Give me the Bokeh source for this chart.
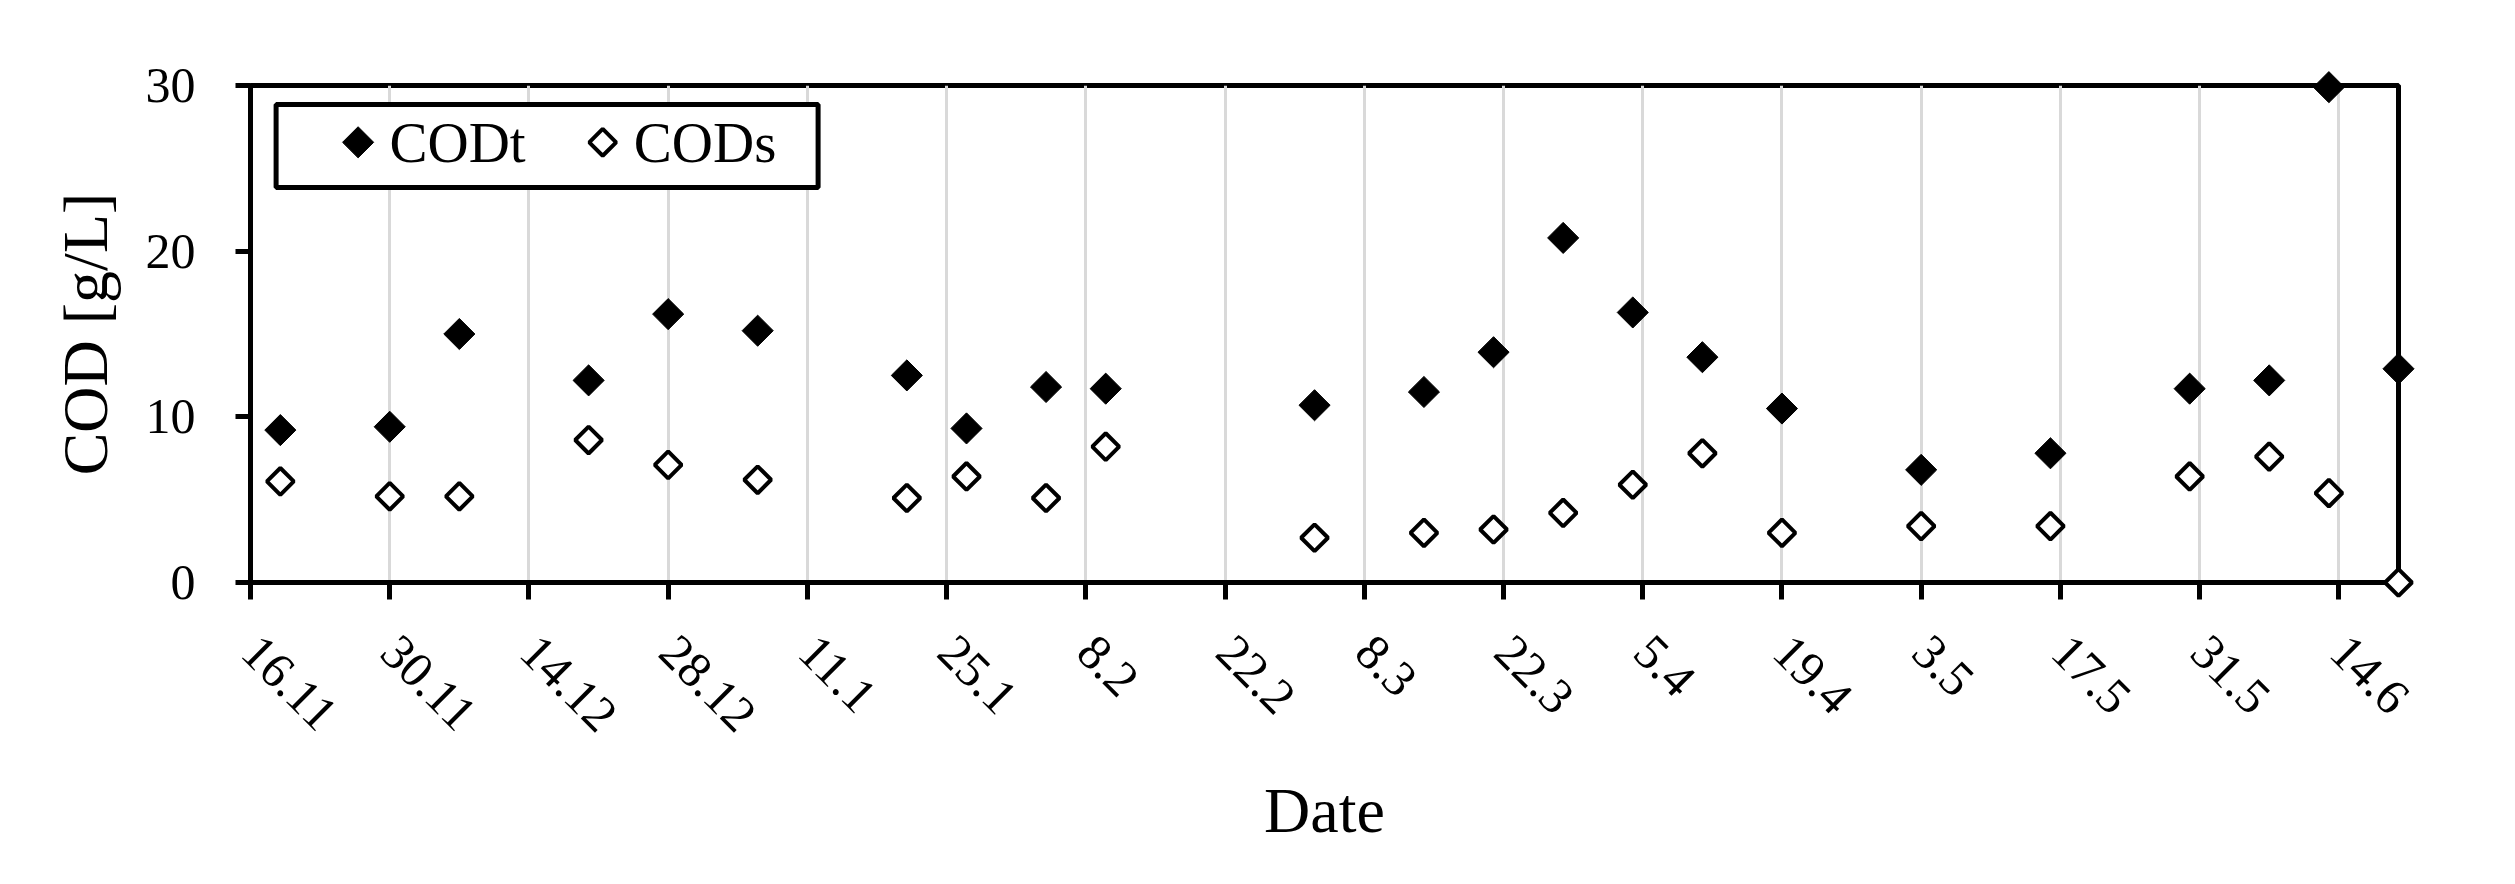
import math
import pandas as pd
from bokeh.plotting import figure
from bokeh.models import FixedTicker, Range1d, BoxAnnotation, Label
from bokeh.embed import file_html
from bokeh.resources import INLINE

# ---------------- data ----------------
start_date = "2017-11-16"
end_date = "2018-06-20"
sample_dates = ["2017-11-19", "2017-11-30", "2017-12-07", "2017-12-20", "2017-12-28",
                "2018-01-06", "2018-01-21", "2018-01-27", "2018-02-04", "2018-02-10",
                "2018-03-03", "2018-03-14", "2018-03-21", "2018-03-28", "2018-04-04",
                "2018-04-11", "2018-04-19", "2018-05-03", "2018-05-16", "2018-05-30",
                "2018-06-07", "2018-06-13", "2018-06-20"]
cod_t = [9.2, 9.4, 15.0, 12.2, 16.2, 15.2, 12.5, 9.3, 11.8, 11.7, 10.7, 11.5,
         13.9, 20.8, 16.3, 13.6, 10.5, 6.8, 7.8, 11.7, 12.2, 29.9, 12.9]
cod_s = [6.1, 5.2, 5.2, 8.6, 7.1, 6.2, 5.1, 6.4, 5.1, 8.2, 2.7, 3.0,
         3.2, 4.2, 5.9, 7.8, 3.0, 3.4, 3.4, 6.4, 7.6, 5.4, 0.0]
tick_dates = ["2017-11-16", "2017-11-30", "2017-12-14", "2017-12-28", "2018-01-11",
              "2018-01-25", "2018-02-08", "2018-02-22", "2018-03-08", "2018-03-22",
              "2018-04-05", "2018-04-19", "2018-05-03", "2018-05-17", "2018-05-31",
              "2018-06-14"]
tick_labels = ["16.11", "30.11", "14.12", "28.12", "11.1", "25.1", "8.2", "22.2",
               "8.3", "22.3", "5.4", "19.4", "3.5", "17.5", "31.5", "14.6"]
y_ticks = [0, 10, 20, 30]
series_names = ["CODt", "CODs"]

t0 = pd.Timestamp(start_date)


def to_days(ds):
    return [int((pd.Timestamp(d) - t0).days) for d in ds]


x_days = to_days(sample_dates)
x_ticks = to_days(tick_dates)
x_end = to_days([end_date])[0]

FONT = "Liberation Serif"
W, H = 2500, 868
BL, BR, BT, BB = 250, 102, 85, 286
FW, FH = W - BL - BR, H - BT - BB   # frame size in pixels

p = figure(width=W, height=H, output_backend="svg", toolbar_location=None,
           x_range=Range1d(0, x_end), y_range=Range1d(0, 30),
           min_border_left=BL, min_border_right=BR,
           min_border_top=BT, min_border_bottom=BB)
# pixel coordinate system of the frame (origin top-left) for the legend
p.extra_x_ranges = {"px": Range1d(0, FW)}
p.extra_y_ranges = {"py": Range1d(FH, 0)}

p.background_fill_color = "white"
p.border_fill_color = "white"
p.outline_line_color = "black"
p.outline_line_width = 5
p.outline_line_alpha = 1.0

# grid
p.xgrid.ticker = FixedTicker(ticks=x_ticks)
p.xgrid.grid_line_color = "#d9d9d9"
p.xgrid.grid_line_width = 3
p.ygrid.grid_line_color = None

# axes
for ax in (p.xaxis[0], p.yaxis[0]):
    ax.axis_line_color = "black"
    ax.axis_line_width = 5
    ax.major_tick_line_color = "black"
    ax.major_tick_line_width = 5
    ax.major_tick_in = 0
    ax.minor_tick_line_color = None
    ax.major_label_text_font = FONT
    ax.major_label_text_font_size = "50px"
    ax.major_label_text_color = "black"
    ax.axis_label_text_font = FONT
    ax.axis_label_text_font_size = "64px"
    ax.axis_label_text_font_style = "normal"
    ax.axis_label_text_color = "black"

p.xaxis.ticker = FixedTicker(ticks=x_ticks)
p.xaxis.major_label_overrides = {t: lab for t, lab in zip(x_ticks, tick_labels)}
p.xaxis.major_label_orientation = -math.pi / 4
p.xaxis.major_tick_out = 17
p.xaxis.major_label_standoff = 44
p.xaxis.axis_label = "Date"
p.xaxis.axis_label_standoff = 26

p.yaxis.ticker = FixedTicker(ticks=y_ticks)
p.yaxis.major_tick_out = 15
p.yaxis.major_label_standoff = 40
p.yaxis.axis_label = "COD [g/L]"
p.yaxis.axis_label_standoff = 22

# data
style_t = dict(marker="square", angle=45, angle_units="deg", size=22,
               fill_color="black", line_color="black", line_width=1, level="overlay")
style_s = dict(marker="square", angle=45, angle_units="deg", size=19,
               fill_color="white", line_color="black", line_width=4, level="overlay")
p.scatter(x_days, cod_t, **style_t)
p.scatter(x_days, cod_s, **style_s)

# legend (box, keys and labels in frame pixel coordinates)
p.add_layout(BoxAnnotation(left=25.6, right=567.6, top=19, bottom=102,
                           x_range_name="px", y_range_name="py",
                           fill_color="white", fill_alpha=1.0,
                           line_color="black", line_alpha=1.0, line_width=5))
p.scatter([107.6], [56.8], x_range_name="px", y_range_name="py", **style_t)
p.scatter([352.2], [56.8], x_range_name="px", y_range_name="py", **style_s)
for lx, name in zip([139.0, 383.3], series_names):
    p.add_layout(Label(x=lx, y=57.3, text=name, x_range_name="px", y_range_name="py",
                       text_align="left", text_baseline="middle",
                       text_font=FONT, text_font_size="57px", text_color="black"))

open("out.html", "w").write(file_html(p, INLINE))
